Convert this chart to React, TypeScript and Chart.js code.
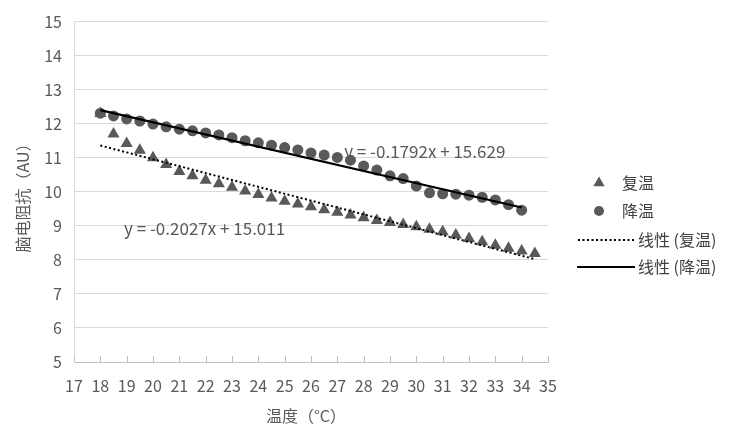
import { useEffect, useRef } from "react";
import { Chart, registerables } from "chart.js";

Chart.register(...registerables);

// ---- data ----
const warmTemps = [18, 18.5, 19, 19.5, 20, 20.5, 21, 21.5, 22, 22.5, 23, 23.5, 24, 24.5, 25, 25.5, 26, 26.5, 27, 27.5, 28, 28.5, 29, 29.5, 30, 30.5, 31, 31.5, 32, 32.5, 33, 33.5, 34, 34.5];
const warmValues = [12.3, 11.7, 11.42, 11.22, 11.0, 10.8, 10.6, 10.47, 10.34, 10.24, 10.13, 10.02, 9.92, 9.82, 9.72, 9.64, 9.56, 9.47, 9.4, 9.32, 9.24, 9.16, 9.1, 9.04, 8.97, 8.9, 8.83, 8.73, 8.63, 8.53, 8.43, 8.34, 8.26, 8.19];

const coolTemps = [18, 18.5, 19, 19.5, 20, 20.5, 21, 21.5, 22, 22.5, 23, 23.5, 24, 24.5, 25, 25.5, 26, 26.5, 27, 27.5, 28, 28.5, 29, 29.5, 30, 30.5, 31, 31.5, 32, 32.5, 33, 33.5, 34];
const coolValues = [12.31, 12.23, 12.14, 12.08, 11.99, 11.91, 11.84, 11.79, 11.73, 11.67, 11.59, 11.5, 11.44, 11.37, 11.3, 11.23, 11.14, 11.08, 11.01, 10.93, 10.76, 10.64, 10.47, 10.39, 10.17, 9.97, 9.94, 9.93, 9.9, 9.84, 9.76, 9.62, 9.46];

const warmFitX = [18, 34.5];
const warmFitY = [11.36, 8.02];
const coolFitX = [18, 34];
const coolFitY = [12.4, 9.54];

const xMin = 17;
const xMax = 35;
const yMin = 5;
const yMax = 15;

const seriesNames = ["复温", "降温", "线性 (复温)", "线性 (降温)"];
const xTitle = "温度（°C）";
const yTitle = "脑电阻抗（AU）";

const warmEquation = "y = -0.2027x + 15.011";
const coolEquation = "y = -0.1792x + 15.629";
const warmEqPos = [21.96, 8.93];
const coolEqPos = [30.32, 11.17];

const FONT = "'Noto Sans CJK SC', 'Noto Sans', sans-serif";
const TEXT = "#595959";
const MARK = "#595959";

const pairs = (xs: number[], ys: number[]) => xs.map((x, i) => ({ x, y: ys[i] }));

const extrasPlugin = {
  id: "extras",
  afterDatasetsDraw(chart: any) {
    const { ctx, scales } = chart;
    const xs = scales.x;
    const ys = scales.y;
    ctx.save();
    ctx.fillStyle = TEXT;
    ctx.font = `17px ${FONT}`;
    ctx.textAlign = "center";
    ctx.textBaseline = "middle";
    ctx.fillText(warmEquation, xs.getPixelForValue(warmEqPos[0]), ys.getPixelForValue(warmEqPos[1]));
    ctx.fillText(coolEquation, xs.getPixelForValue(coolEqPos[0]), ys.getPixelForValue(coolEqPos[1]));
    ctx.restore();
  },
  afterDraw(chart: any) {
    const { ctx, scales, chartArea } = chart;
    const xs = scales.x;
    ctx.save();
    // x tick marks pointing up
    ctx.strokeStyle = "#bfbfbf";
    ctx.lineWidth = 1;
    ctx.beginPath();
    for (let v = xMin; v <= xMax; v++) {
      const px = Math.round(xs.getPixelForValue(v)) + 0.5;
      ctx.moveTo(px, chartArea.bottom);
      ctx.lineTo(px, chartArea.bottom - 6);
    }
    ctx.stroke();

    // axis titles
    ctx.fillStyle = TEXT;
    ctx.font = `16px ${FONT}`;
    ctx.textAlign = "center";
    ctx.textBaseline = "middle";
    ctx.fillText(xTitle, 306, 416);
    ctx.save();
    ctx.translate(23, 194);
    ctx.rotate(-Math.PI / 2);
    ctx.fillText(yTitle, 0, 0);
    ctx.restore();

    // legend
    const lx = 599;
    const tx = 622;
    const rows = [183, 211, 240, 267];
    ctx.fillStyle = MARK;
    const r = 6.5;
    ctx.beginPath();
    ctx.moveTo(lx, rows[0] - r);
    ctx.lineTo(lx + r * 0.866, rows[0] + r * 0.5);
    ctx.lineTo(lx - r * 0.866, rows[0] + r * 0.5);
    ctx.closePath();
    ctx.fill();
    ctx.beginPath();
    ctx.arc(lx, rows[1], 5, 0, Math.PI * 2);
    ctx.fill();
    ctx.strokeStyle = "#000";
    ctx.lineWidth = 2;
    ctx.setLineDash([2, 2.5]);
    ctx.beginPath();
    ctx.moveTo(578, rows[2]);
    ctx.lineTo(635, rows[2]);
    ctx.stroke();
    ctx.setLineDash([]);
    ctx.beginPath();
    ctx.moveTo(577, rows[3]);
    ctx.lineTo(635, rows[3]);
    ctx.stroke();

    ctx.fillStyle = "#404040";
    ctx.font = `16px ${FONT}`;
    ctx.textAlign = "left";
    ctx.textBaseline = "middle";
    ctx.fillText(seriesNames[0], tx, rows[0]);
    ctx.fillText(seriesNames[1], tx, rows[1]);
    ctx.fillText(seriesNames[2], 638, rows[2]);
    ctx.fillText(seriesNames[3], 638, rows[3]);
    ctx.restore();
  },
};

export default function App() {
  const ref = useRef<HTMLCanvasElement | null>(null);

  useEffect(() => {
    document.body.style.margin = "0";
    const canvas = ref.current;
    if (!canvas) return;
    const chart = new Chart(canvas, {
      type: "scatter",
      data: {
        datasets: [
          {
            label: seriesNames[2],
            type: "line",
            data: pairs(warmFitX, warmFitY),
            borderColor: "#000",
            borderWidth: 2,
            borderDash: [2, 2.5],
            pointRadius: 0,
            fill: false,
            order: 0,
          },
          {
            label: seriesNames[3],
            type: "line",
            data: pairs(coolFitX, coolFitY),
            borderColor: "#000",
            borderWidth: 2.2,
            pointRadius: 0,
            fill: false,
            order: 0,
          },
          {
            label: seriesNames[0],
            data: pairs(warmTemps, warmValues),
            pointStyle: "triangle",
            pointRadius: 7,
            backgroundColor: MARK,
            borderColor: MARK,
            borderWidth: 0,
            order: 1,
          },
          {
            label: seriesNames[1],
            data: pairs(coolTemps, coolValues),
            pointStyle: "circle",
            pointRadius: 5.5,
            backgroundColor: MARK,
            borderColor: MARK,
            borderWidth: 0,
            order: 1,
          },
        ],
      },
      options: {
        responsive: false,
        animation: false,
        layout: { padding: { left: 0, top: 21, right: 182, bottom: 0 } },
        plugins: {
          legend: { display: false },
          tooltip: { enabled: false },
        },
        scales: {
          x: {
            type: "linear",
            min: xMin,
            max: xMax,
            ticks: {
              stepSize: 1,
              color: TEXT,
              font: { family: FONT, size: 16 },
              padding: 14,
              maxRotation: 0,
              autoSkip: false,
            },
            grid: { display: false, drawTicks: false },
            border: { display: true, color: "#bfbfbf", width: 1 },
            afterFit: (s: any) => {
              s.height = 65;
            },
          },
          y: {
            type: "linear",
            min: yMin,
            max: yMax,
            ticks: {
              stepSize: 1,
              color: TEXT,
              font: { family: FONT, size: 16 },
              padding: 12,
            },
            grid: { color: "#d9d9d9", drawTicks: false },
            border: { display: true, color: "#d9d9d9", width: 1 },
            afterFit: (s: any) => {
              s.width = 74;
            },
          },
        },
      },
      plugins: [extrasPlugin],
    });
    return () => chart.destroy();
  }, []);

  return (
    <div style={{ width: 730, height: 427, background: "#fff" }}>
      <canvas ref={ref} width={730} height={427} style={{ display: "block" }} />
    </div>
  );
}
